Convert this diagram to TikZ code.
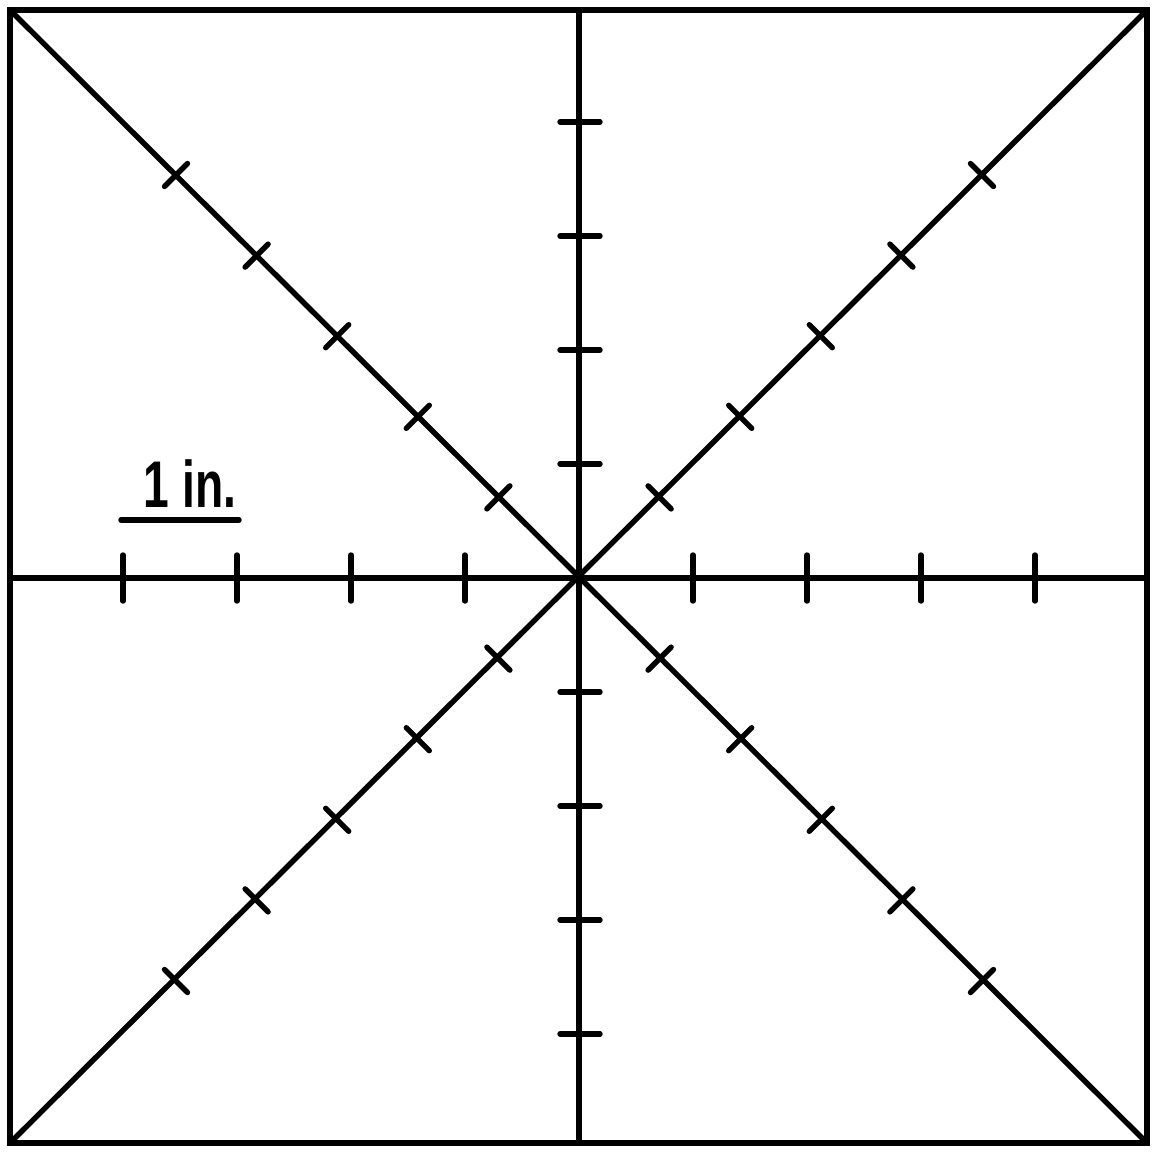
\documentclass[tikz,border=0pt]{standalone}
\usepackage{fontspec}
\newfontfamily\handfont{Liberation Sans}
\begin{document}
\begin{tikzpicture}[x=0.5pt,y=-0.5pt,
  frame/.style={line width=3.2pt},
  axis/.style={line width=2.7pt},
  tickmark/.style={line width=2.7pt, line cap=round},
  label/.style={font=\handfont\bfseries\fontsize{33}{33}\selectfont, anchor=base, inner sep=0pt, xscale=0.7}]
\useasboundingbox (0,0) rectangle (1156,1151);
\fill[white] (0,0) rectangle (1156,1151);
\coordinate (TL) at (10,10);
\coordinate (TR) at (1147,10);
\coordinate (BL) at (10,1143);
\coordinate (BR) at (1147,1143);
\coordinate (O) at (579,578);
\coordinate (L) at (10,578);
\coordinate (R) at (1144,578);
\coordinate (T) at (579,10);
\coordinate (B) at (579,1143);
% frame and axes
\draw[frame] (TL) rectangle (BR);
\draw[axis] (L) -- (R);
\draw[axis] (T) -- (B);
\draw[axis] (TL) -- (BR);
\draw[axis] (TR) -- (BL);
% horizontal axis ticks
\foreach \k in {1,...,4}{
  \draw[tickmark] ([xshift=-114*\k*0.5pt, yshift=23*0.5pt]O) -- ([xshift=-114*\k*0.5pt, yshift=-23*0.5pt]O);
  \draw[tickmark] ([xshift=114*\k*0.5pt, yshift=23*0.5pt]O) -- ([xshift=114*\k*0.5pt, yshift=-23*0.5pt]O);
}
% vertical axis ticks
\foreach \k in {1,...,4}{
  \draw[tickmark] ([xshift=-19*0.5pt, yshift=114*\k*0.5pt]O) -- ([xshift=21*0.5pt, yshift=114*\k*0.5pt]O);
  \draw[tickmark] ([xshift=-19*0.5pt, yshift=-114*\k*0.5pt]O) -- ([xshift=21*0.5pt, yshift=-114*\k*0.5pt]O);
}
% diagonal ticks
\foreach \k in {1,...,5}{
  \pgfmathsetmacro{\d}{80.6*\k}
  \draw[tickmark] ([xshift=(-\d-11.5)*0.5pt, yshift=(\d-11.5)*0.5pt]O) -- ([xshift=(-\d+11.5)*0.5pt, yshift=(\d+11.5)*0.5pt]O);
  \draw[tickmark] ([xshift=(\d-11.5)*0.5pt, yshift=(-\d-11.5)*0.5pt]O) -- ([xshift=(\d+11.5)*0.5pt, yshift=(-\d+11.5)*0.5pt]O);
  \draw[tickmark] ([xshift=(\d-11.5)*0.5pt, yshift=(\d+11.5)*0.5pt]O) -- ([xshift=(\d+11.5)*0.5pt, yshift=(\d-11.5)*0.5pt]O);
  \draw[tickmark] ([xshift=(-\d-11.5)*0.5pt, yshift=(-\d+11.5)*0.5pt]O) -- ([xshift=(-\d+11.5)*0.5pt, yshift=(-\d-11.5)*0.5pt]O);
}
% scale label
\node[label] (lbl) at (190,507) {1 in.};
\coordinate (u1) at (121,520);
\coordinate (u2) at (239,520);
\draw[tickmark] (u1) -- (u2);
\end{tikzpicture}
\end{document}
